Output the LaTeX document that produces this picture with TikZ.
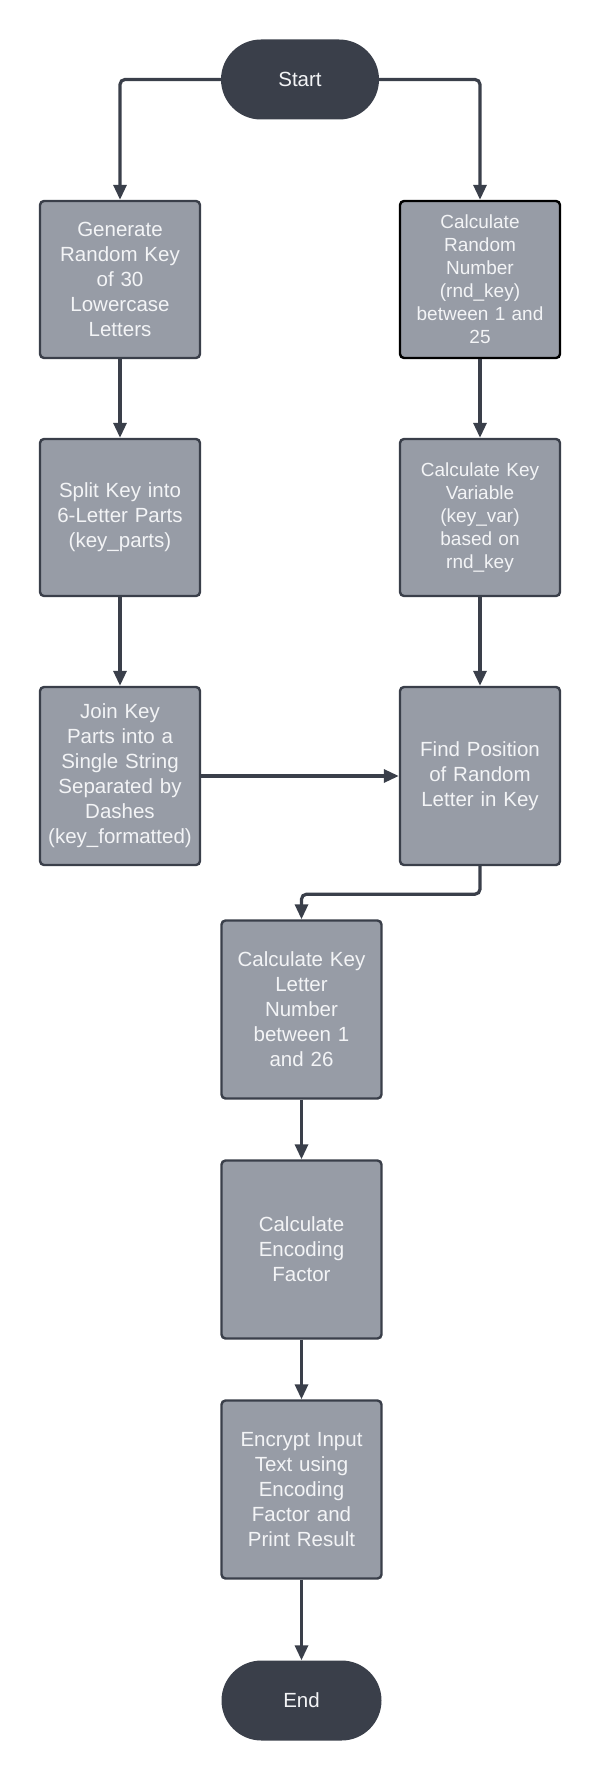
\documentclass[tikz,border=0pt]{standalone}
\usepackage{fontspec}
\setmainfont{Liberation Sans}
\usetikzlibrary{arrows.meta}
\definecolor{boxfill}{HTML}{979CA6}
\definecolor{dark}{HTML}{3A3F4A}
\definecolor{txt}{HTML}{F3F4F6}
\begin{document}
\begin{tikzpicture}[x=1pt,y=-1pt,
  proc/.style={draw=dark, line width=2.4pt, fill=boxfill, rounded corners=4pt,
    minimum width=160pt, text width=152pt, align=center, text=txt,
    font=\fontsize{20.5}{25}\selectfont, inner sep=0pt},
  procs/.style={proc, font=\fontsize{19}{23}\selectfont},
  term/.style={fill=dark, rounded corners=40pt, minimum width=158pt,
    minimum height=80pt, text=txt, font=\fontsize{20.5}{25}\selectfont, inner sep=0pt},
  conn/.style={draw=dark, line width=3.2pt, rounded corners=5pt,
    -{Triangle[length=15pt,width=13pt]}}]
\useasboundingbox (0,0) rectangle (600,1782);

\node[term] (start) at (300,79.5) {Start};

\node[proc, minimum height=157pt] (gen) at (120,279.5)
  {Generate\\Random Key\\of 30\\Lowercase\\Letters};
\node[procs, minimum height=157pt, draw=black] (crn) at (480,279.5)
  {Calculate\\Random\\Number\\(rnd\_key)\\between 1 and\\25};

\node[proc, minimum height=157pt] (split) at (120,517.5)
  {Split Key into\\6-Letter Parts\\(key\_parts)};
\node[procs, minimum height=157pt] (ckv) at (480,517.5)
  {Calculate Key\\Variable\\(key\_var)\\based on\\rnd\_key};

\node[proc, minimum height=178pt] (join) at (120,776)
  {Join Key\\Parts into a\\Single String\\Separated by\\Dashes\\(key\_formatted)};
\node[proc, minimum height=178pt] (find) at (480,776)
  {Find Position\\of Random\\Letter in Key};

\node[proc, minimum height=178pt] (ckl) at (301.5,1009.5)
  {Calculate Key\\Letter\\Number\\between 1\\and 26};
\node[proc, minimum height=178pt] (enc) at (301.5,1249.5)
  {Calculate\\Encoding\\Factor};
\node[proc, minimum height=178pt] (encr) at (301.5,1489.5)
  {Encrypt Input\\Text using\\Encoding\\Factor and\\Print Result};

\node[term, minimum width=160pt] (end) at (301.5,1700.5) {End};

\draw[conn] (start.west) -| (gen.north);
\draw[conn] (start.east) -| (crn.north);
\draw[conn] (gen) -- (split);
\draw[conn] (split) -- (join);
\draw[conn] (crn) -- (ckv);
\draw[conn] (ckv) -- (find);
\draw[conn] (join) -- (find);
\draw[conn] (find.south) -- ++(0,28) -| (ckl.north);
\draw[conn] (ckl) -- (enc);
\draw[conn] (enc) -- (encr);
\draw[conn] (encr) -- (end);
\end{tikzpicture}
\end{document}
